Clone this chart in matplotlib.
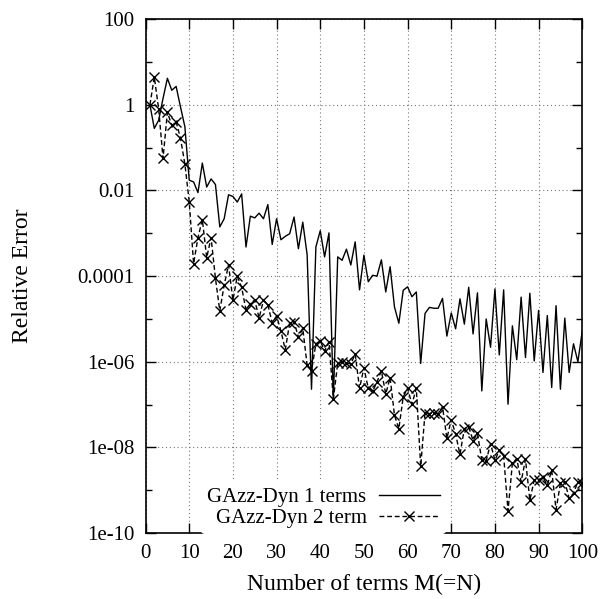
import numpy as np
import matplotlib
matplotlib.use("Agg")
import matplotlib.pyplot as plt
from matplotlib.ticker import FixedLocator, NullFormatter

plt.rcParams['font.family'] = ['Liberation Serif', 'DejaVu Serif']

# number of terms
terms = list(range(1, 101))

# log10 of the relative error
dyn1_log = [0.0, -0.55, -0.36, 0.15, 0.62, 0.34, 0.43, -0.05, -0.51, -1.76,
            -1.80, -2.05, -1.36, -1.92, -1.73, -1.86, -2.85, -2.66, -2.10, -2.14,
            -2.27, -2.08, -3.32, -2.60, -2.64, -2.53, -2.66, -2.33, -3.26, -2.66,
            -3.15, -3.07, -3.01, -2.62, -3.36, -2.74, -3.50, -6.64, -3.32, -2.94,
            -3.55, -2.99, -6.90, -3.55, -3.63, -3.37, -3.74, -3.20, -4.32, -3.51,
            -4.13, -3.98, -4.00, -3.62, -4.37, -3.78, -4.72, -5.10, -4.33, -4.25,
            -4.48, -4.37, -6.04, -4.87, -4.73, -4.75, -4.75, -4.52, -5.40, -4.86,
            -5.23, -4.53, -5.12, -4.26, -5.35, -4.39, -6.68, -5.00, -5.66, -4.30,
            -5.84, -4.32, -6.99, -5.16, -5.95, -4.49, -5.90, -4.40, -5.98, -4.80,
            -6.25, -4.92, -6.60, -4.69, -6.64, -4.98, -6.25, -5.58, -6.00, -5.28]

dyn2_log = [0.0, 0.65, -0.10, -1.25, -0.17, -0.48, -0.40, -0.78, -1.38, -2.26,
            -3.71, -3.10, -2.68, -3.57, -3.10, -4.05, -4.81, -4.21, -3.74, -4.56,
            -4.00, -4.26, -4.79, -4.64, -4.56, -4.98, -4.56, -4.67, -5.09, -4.93,
            -5.28, -5.72, -5.09, -5.06, -5.43, -5.22, -6.08, -6.21, -5.58, -5.51,
            -5.75, -5.53, -6.87, -6.03, -6.01, -6.03, -6.05, -5.82, -6.62, -6.14,
            -6.62, -6.69, -6.47, -6.21, -6.75, -6.37, -7.25, -7.56, -6.82, -6.62,
            -6.99, -6.62, -8.44, -7.19, -7.21, -7.19, -7.21, -7.05, -7.79, -7.35,
            -7.69, -8.16, -7.56, -7.52, -7.84, -7.67, -8.30, -8.31, -7.91, -8.30,
            -8.06, -8.20, -9.48, -8.37, -8.26, -8.80, -8.28, -9.23, -8.76, -8.76,
            -8.70, -8.88, -8.53, -9.45, -8.84, -8.80, -9.19, -9.07, -8.80, -8.84]

ytick_vals = [1e2, 1, 1e-2, 1e-4, 1e-6, 1e-8, 1e-10]
ytick_labels = ['100', '1', '0.01', '0.0001', '1e-06', '1e-08', '1e-10']

dyn1 = 10.0 ** np.array(dyn1_log)
dyn2 = 10.0 ** np.array(dyn2_log)

fig = plt.figure(figsize=(6.04, 5.99), dpi=100)
ax = fig.add_axes([0.241, 0.110, 0.723, 0.858])

ax.plot(terms, dyn1, color='black', lw=1.0, label='GAzz-Dyn 1 terms')
ax.plot(terms, dyn2, color='black', lw=1.0, dashes=(3.5, 2), marker='x',
        markersize=7, markeredgewidth=1.0, label='GAzz-Dyn 2 term')

ax.set_yscale('log')
ax.set_xlim(0, 100)
ax.set_ylim(1e-10, 100)
ax.set_xticks(range(0, 101, 10))
ax.yaxis.set_major_locator(FixedLocator(ytick_vals))
ax.set_yticklabels(ytick_labels)
ax.yaxis.set_minor_locator(FixedLocator([10.0 ** k for k in range(-9, 2, 2)]))
ax.yaxis.set_minor_formatter(NullFormatter())

ax.tick_params(which='major', direction='in', length=7, width=1,
               top=True, right=True, labelsize=15, pad=8)
ax.tick_params(which='minor', direction='in', length=4, width=1,
               left=True, right=True)

ax.grid(True, which='major', linestyle=(0, (1, 2.5)), color='#777777', lw=0.8)
ax.set_axisbelow(True)
for spine in ax.spines.values():
    spine.set_linewidth(1.2)

ax.set_xlabel('Number of terms M(=N)', fontsize=17, labelpad=8)
ax.set_ylabel('Relative Error', fontsize=17, labelpad=32)

# gnuplot style key: text on the left, sample on the right, opaque
leg = ax.legend(loc='lower right', bbox_to_anchor=(0.697, -0.01),
                markerfirst=False, fontsize=15, frameon=True,
                handlelength=2.9, handletextpad=0.6, labelspacing=0.05,
                borderpad=0.3, borderaxespad=0.2)
leg.get_frame().set_edgecolor('none')
leg.get_frame().set_facecolor('white')
leg.get_frame().set_alpha(1.0)
for t in leg.get_texts():
    t.set_ha('right')

fig.savefig('out.png', dpi=100)
